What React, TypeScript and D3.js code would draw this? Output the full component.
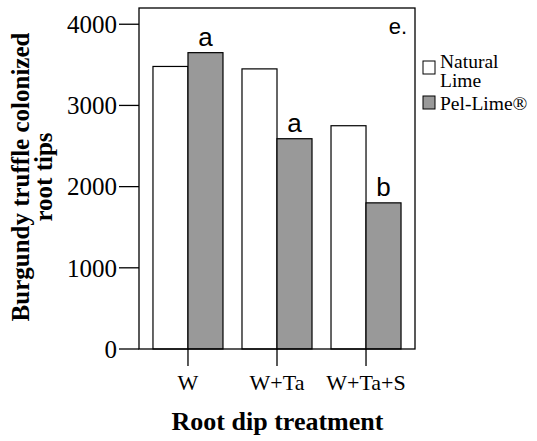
import React from "react";
import * as d3 from "d3";

// Root-dip treatments and colonized root tip counts per lime type
const categories = ["W", "W+Ta", "W+Ta+S"];
const seriesNames = ["Natural Lime", "Pel-Lime®"];
const naturalLime = [3480, 3450, 2750];
const pelLime = [3650, 2590, 1800];
const pelLetters = ["a", "a", "b"];
const yTicks = [0, 1000, 2000, 3000, 4000];

const W = 537;
const H = 441;
const plot = { left: 139, right: 415, top: 8, bottom: 349 };

const serif = "'Liberation Serif', 'Times New Roman', serif";
const sans = "'Liberation Sans', Arial, sans-serif";
const grayFill = "#999999";

export default function App() {
  const x = d3
    .scaleBand<string>()
    .domain(categories)
    .range([plot.left, plot.right])
    .paddingInner(0.2135)
    .paddingOuter(0.157);
  const sub = d3
    .scaleBand<string>()
    .domain(seriesNames)
    .range([0, x.bandwidth()]);
  const y = d3.scaleLinear().domain([0, 4200]).range([plot.bottom, plot.top]);

  const values = [naturalLime, pelLime];
  const fills = ["#ffffff", grayFill];

  return (
    <svg
      width={W}
      height={H}
      style={{ position: "absolute", left: 0, top: 0, background: "#fff" }}
    >
      {/* bars */}
      {categories.map((c, i) =>
        seriesNames.map((s, j) => {
          const v = values[j][i];
          const bx = (x(c) as number) + (sub(s) as number);
          return (
            <rect
              key={c + s}
              x={bx}
              y={y(v)}
              width={sub.bandwidth()}
              height={y(0) - y(v)}
              fill={fills[j]}
              stroke="#000"
              strokeWidth={1.2}
            />
          );
        })
      )}

      {/* significance letters over Pel-Lime bars */}
      {categories.map((c, i) => (
        <text
          key={"lt" + c}
          x={(x(c) as number) + (sub(seriesNames[1]) as number) + sub.bandwidth() / 2}
          y={y(pelLime[i]) - 7}
          textAnchor="middle"
          fontFamily={sans}
          fontSize={26}
          fill="#000"
        >
          {pelLetters[i]}
        </text>
      ))}

      {/* frame */}
      <rect
        x={plot.left}
        y={plot.top}
        width={plot.right - plot.left}
        height={plot.bottom - plot.top}
        fill="none"
        stroke="#000"
        strokeWidth={1.3}
      />

      {/* y ticks */}
      {yTicks.map((t) => (
        <g key={"yt" + t}>
          <line x1={plot.left - 20} x2={plot.left} y1={y(t)} y2={y(t)} stroke="#000" strokeWidth={1.3} />
          <text
            x={plot.left - 22}
            y={y(t)}
            dy="0.35em"
            textAnchor="end"
            fontFamily={serif}
            fontSize={25}
            fill="#000"
          >
            {t}
          </text>
        </g>
      ))}

      {/* x ticks at group centers */}
      {categories.map((c) => {
        const cx = (x(c) as number) + x.bandwidth() / 2;
        return (
          <g key={"xt" + c}>
            <line x1={cx} x2={cx} y1={plot.bottom} y2={plot.bottom + 17} stroke="#000" strokeWidth={1.3} />
            <text x={cx} y={390} textAnchor="middle" fontFamily={serif} fontSize={22} fill="#000">
              {c}
            </text>
          </g>
        );
      })}

      {/* panel label */}
      <text x={407} y={34} textAnchor="end" fontFamily={sans} fontSize={22} fill="#000">
        e.
      </text>

      {/* axis titles */}
      <text
        x={277.5}
        y={430}
        textAnchor="middle"
        fontFamily={serif}
        fontWeight="bold"
        fontSize={26}
        fill="#000"
      >
        Root dip treatment
      </text>
      <g transform="translate(29,177) rotate(-90)">
        <text x={0} y={0} textAnchor="middle" fontFamily={serif} fontWeight="bold" fontSize={25} fill="#000">
          Burgundy truffle colonized
        </text>
        <text x={0} y={23} textAnchor="middle" fontFamily={serif} fontWeight="bold" fontSize={25} fill="#000">
          root tips
        </text>
      </g>

      {/* legend */}
      <rect x={423} y={61} width={12} height={13} fill="#fff" stroke="#000" strokeWidth={1} />
      <text x={440} y={68} fontFamily={serif} fontSize={19.5} fill="#000">
        Natural
      </text>
      <text x={440} y={87} fontFamily={serif} fontSize={19.5} fill="#000">
        Lime
      </text>
      <rect x={423} y={96} width={12} height={13} fill={grayFill} stroke="#000" strokeWidth={1} />
      <text x={440} y={110} fontFamily={serif} fontSize={19.5} fill="#000">
        Pel-Lime®
      </text>
    </svg>
  );
}
